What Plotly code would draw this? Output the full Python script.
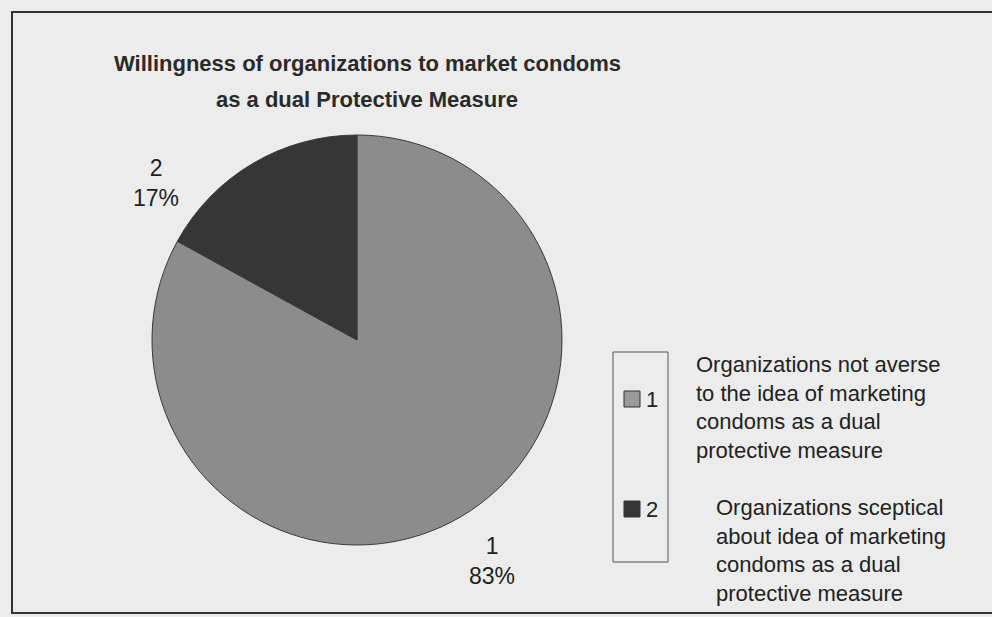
import plotly.graph_objects as go

# ---- data ----
labels = ["1", "2"]
values = [83, 17]
colors = ["#8c8c8c", "#363636"]
swatch_colors = ["#9a9a9a", "#363636"]
descriptions = [
    "Organizations not averse<br>to the idea of marketing<br>condoms as a dual<br>protective measure",
    "Organizations sceptical<br>about idea of marketing<br>condoms as a dual<br>protective measure",
]
title_lines = ["Willingness of organizations to market condoms",
               "as a dual Protective Measure"]

W, H = 992, 617
def px(x):
    return x / W
def py(y):
    return 1 - y / H

fig = go.Figure()
fig.add_trace(go.Pie(
    labels=labels,
    values=values,
    sort=False,
    direction="clockwise",
    rotation=0,
    marker=dict(colors=colors, line=dict(color="#3a3a3a", width=1)),
    textinfo="none",
    hoverinfo="label+percent",
    showlegend=False,
    domain=dict(x=[px(152), px(562)], y=[py(545), py(135)]),
))

total = sum(values)
pcts = [round(v * 100 / total) for v in values]
label_pos = [(492, 561), (156, 183)]
font_main = "Liberation Sans, Arial, sans-serif"
annotations = []
for lab, pct, (x, y) in zip(labels, pcts, label_pos):
    annotations.append(dict(
        x=px(x), y=py(y), xref="paper", yref="paper",
        text=f"{lab}<br>{pct}%", showarrow=False,
        font=dict(family=font_main, size=23, color="#222"),
        xanchor="center", yanchor="middle", align="center",
    ))

# title (two lines, spaced as in the reference)
for line, ty in zip(title_lines, [63, 99]):
    annotations.append(dict(
        x=px(367), y=py(ty), xref="paper", yref="paper",
        text=f"<b>{line}</b>", showarrow=False,
        font=dict(family=font_main, size=22, color="#2a2a2a"),
        xanchor="center", yanchor="middle", align="center",
    ))

shapes = [
    # outer frame
    dict(type="rect", xref="paper", yref="paper",
         x0=px(12), x1=px(1010), y0=py(613), y1=py(12),
         line=dict(color="#333", width=2), fillcolor="rgba(0,0,0,0)"),
    # legend box
    dict(type="rect", xref="paper", yref="paper",
         x0=px(613), x1=px(668), y0=py(562), y1=py(352),
         line=dict(color="#555", width=1), fillcolor="rgba(0,0,0,0)"),
]

legend_y = [399, 509]
desc_pos = [(694, 407), (714, 550)]
for lab, sc, ly, desc, (dx, dy) in zip(labels, swatch_colors, legend_y, descriptions, desc_pos):
    shapes.append(dict(type="rect", xref="paper", yref="paper",
                       x0=px(624), x1=px(640), y0=py(ly + 8), y1=py(ly - 8),
                       line=dict(color="#333", width=1), fillcolor=sc))
    annotations.append(dict(
        x=px(644), y=py(ly), xref="paper", yref="paper",
        text=lab, showarrow=False,
        font=dict(family=font_main, size=22, color="#222"),
        xanchor="left", yanchor="middle",
    ))
    annotations.append(dict(
        x=px(dx), y=py(dy), xref="paper", yref="paper",
        text=desc, showarrow=False,
        font=dict(family=font_main, size=22, color="#222"),
        xanchor="left", yanchor="middle", align="left",
    ))

fig.update_layout(
    width=W, height=H,
    margin=dict(l=0, r=0, t=0, b=0),
    paper_bgcolor="#ececec",
    plot_bgcolor="#ececec",
    annotations=annotations,
    shapes=shapes,
    showlegend=False,
)

fig.write_html("out.html")
